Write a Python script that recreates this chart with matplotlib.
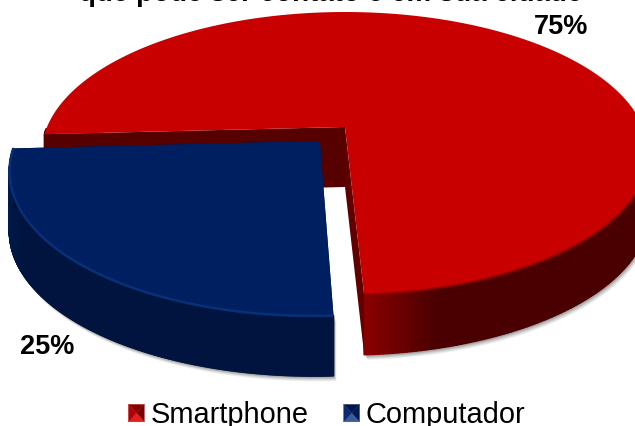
import numpy as np
import matplotlib
matplotlib.use("Agg")
import matplotlib.pyplot as plt
from matplotlib.patches import Polygon, Patch
from matplotlib.collections import PolyCollection
from matplotlib.legend_handler import HandlerBase

categories = ["Smartphone", "Computador"]
shares = [75, 25]
labels = ["75%", "25%"]
title_text = "que pode ser contato e em sua cidade"

START = 273.0
CX, CY, RX, RK, P, H = 345.0, 127.0, 298.0, 136.5, 0.187, 60.0
OFFSET = {"Smartphone": (0.0, 0.0), "Computador": (-0.083, 0.10)}
STYLE = {
    "Smartphone": dict(top="#C80000", rim="#8A0000", side_a="#8A0000", side_b="#4A0000", wall="#560000", wall2="#620000"),
    "Computador": dict(top="#001F60", rim="#0C3A88", side_a="#001E55", side_b="#00143F", wall="#001540", wall2="#001030"),
}

plt.rcParams["font.family"] = ["Liberation Sans", "DejaVu Sans"]
fig = plt.figure(figsize=(6.35, 4.26), dpi=100)
ax = fig.add_axes([0, 0, 1, 1])
ax.set_xlim(0, 635)
ax.set_ylim(426, 0)
ax.axis("off")


def project(u, v, drop=0.0):
    s = 1.0 / (1.0 - P * v)
    return CX + RX * u * s, CY + RK * v * s + drop


def arc_at(name, angles, drop=0.0):
    th = np.radians(angles)
    ou, ov = OFFSET[name]
    x, y = project(ou + np.cos(th), ov - np.sin(th), drop)
    return np.column_stack([x, y])


def centre(name, drop=0.0):
    ou, ov = OFFSET[name]
    return np.array(project(ou, ov, drop))


def mix(c1, c2, t):
    a = np.array(matplotlib.colors.to_rgb(c1))
    b = np.array(matplotlib.colors.to_rgb(c2))
    return tuple(a + (b - a) * t)


# wedge angle ranges come from the shares
ranges = {}
a = START
for name, sh in zip(categories, shares):
    b = a + sh / sum(shares) * 360.0
    ranges[name] = (a, b)
    a = b


def shadow(name, z):
    a0, a1 = ranges[name]
    ang = np.linspace(a0, a1, 240)
    hull = np.vstack([arc_at(name, ang), arc_at(name, ang, H)[::-1]])
    for d, al in [(6, .08), (5, .10), (4, .13), (3, .16), (2, .20)]:
        ax.add_patch(Polygon(hull + [d * 0.5, d * 0.9], closed=True, fc="#555555", ec="none", alpha=al, zorder=z))


def draw(name, z):
    st = STYLE[name]
    a0, a1 = ranges[name]
    c, cb = centre(name), centre(name, H)
    ends = arc_at(name, np.array([a0, a1]))
    p0, p1 = ends[0], ends[1]
    ang = np.linspace(a0, a1, 360)
    # outer wall: only the part that faces the viewer, shaded along the rim
    front = ang[np.sin(np.radians(ang)) <= 0]
    top = arc_at(name, front)
    low = arc_at(name, front, H)
    quads, cols = [], []
    for i in range(len(top) - 1):
        if front[i + 1] - front[i] > 2:
            continue
        quads.append([top[i], top[i + 1], low[i + 1], low[i]])
        t = min(1.0, np.hypot(*(top[i] - top[0])) / 70.0)
        cols.append(mix(st["side_a"], st["side_b"], t))
    ax.add_collection(PolyCollection(quads, facecolors=cols, edgecolors=cols, linewidths=1.2, zorder=z))
    # inner walls
    ax.add_patch(Polygon([c, p1, p1 + [0, H], cb], closed=True, fc=st["wall"], ec="none", zorder=z + 0.1))
    ax.add_patch(Polygon([c, p0, p0 + [0, H], cb], closed=True, fc=st["wall2"], ec="none", zorder=z + 0.2))
    # top face with a soft rim on the part that faces the viewer
    ax.add_patch(Polygon(np.vstack([c, arc_at(name, ang)]), closed=True, fc=st["top"], ec="none", zorder=z + 0.3))
    rim = front[front < front[0] + 180]
    ax.plot(*arc_at(name, rim).T, color=st["rim"], lw=1.8, alpha=0.7, zorder=z + 0.4, solid_capstyle="butt")


shadow("Smartphone", 1)
draw("Smartphone", 2)
shadow("Computador", 3)
draw("Computador", 4)

ax.text(561, 27, labels[0], ha="center", va="center", fontsize=19.5, fontweight="bold", color="black", zorder=6)
ax.text(47, 347, labels[1], ha="center", va="center", fontsize=19.5, fontweight="bold", color="black", zorder=6)
ax.text(331, 1, title_text, ha="center", va="baseline", fontsize=20, fontweight="bold", color="black", zorder=6)


class BevelKey(HandlerBase):
    def __init__(self, shades):
        super().__init__()
        self.shades = shades

    def create_artists(self, legend, orig, xd, yd, w, h, fontsize, trans):
        x0, y0 = xd * -1, yd * -1
        m = (x0 + w / 2, y0 + h / 2)
        bl, br, tr, tl = (x0, y0), (x0 + w, y0), (x0 + w, y0 + h), (x0, y0 + h)
        cols = self.shades[orig.get_label()]
        tris = [[tl, tr, m], [tr, br, m], [br, bl, m], [bl, tl, m]]
        return [Polygon(t, closed=True, fc=k, ec=k, lw=0.2, transform=trans) for t, k in zip(tris, cols)]


shades = {"Smartphone": ["#8A0000", "#7A0000", "#E02020", "#B00000"],
          "Computador": ["#00164A", "#001A55", "#3A5A9A", "#0A2A70"]}
handles = [Patch(label=n) for n in categories]
leg = ax.legend(handles=handles, loc="lower center", bbox_to_anchor=(327 / 635, -0.008), ncol=2, frameon=False,
                fontsize=20.9, handlelength=0.55, handleheight=0.55, handletextpad=0.22, columnspacing=1.2,
                borderaxespad=0, borderpad=0,
                handler_map={Patch: BevelKey(shades)})

fig.savefig("out.png", dpi=100)
